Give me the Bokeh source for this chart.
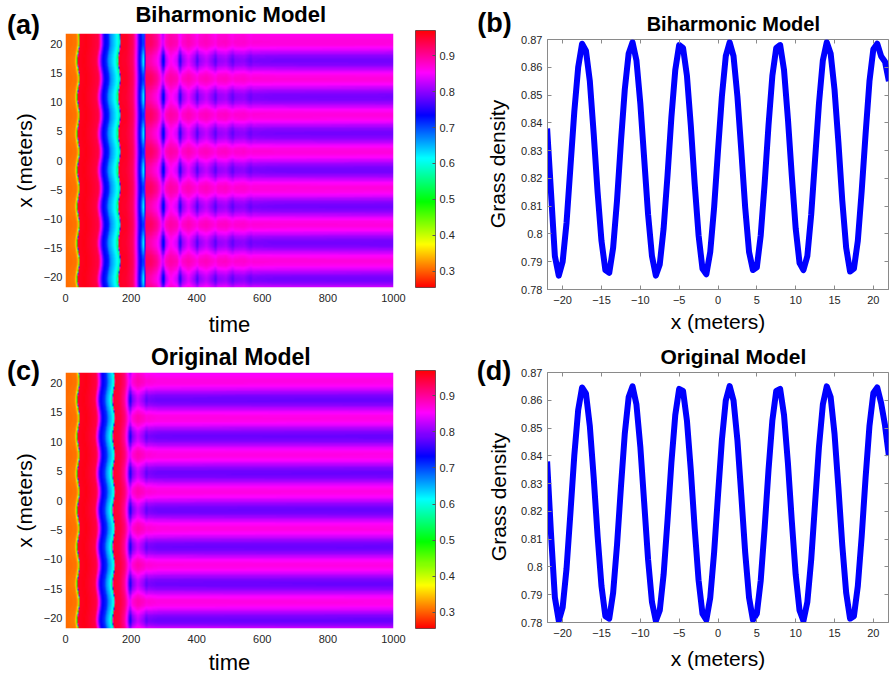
import colorsys
import numpy as np
from bokeh.plotting import figure
from bokeh.layouts import column, row
from bokeh.models import LinearColorMapper, FixedTicker, Label, LinearAxis, Range1d
from bokeh.embed import file_html
from bokeh.resources import INLINE

# ---------------- data ----------------
# spatial grid of the density profiles (meters)
X_M = np.arange(-22.0, 22.001, 0.5)

# final grass density, biharmonic model (panel b)
DENSITY_B = [
    0.838, 0.815, 0.792, 0.785, 0.790, 0.804, 0.824, 0.844, 0.860, 0.8685,
    0.866, 0.855, 0.836, 0.815, 0.7975, 0.787, 0.786, 0.795, 0.812, 0.833,
    0.852, 0.865, 0.869, 0.8625, 0.847, 0.827, 0.807, 0.792, 0.785, 0.789,
    0.802, 0.821, 0.842, 0.859, 0.868, 0.867, 0.857, 0.839, 0.818, 0.7995,
    0.7875, 0.7855, 0.7935, 0.8095, 0.830, 0.8495, 0.864, 0.869, 0.864, 0.8495,
    0.830, 0.8095, 0.7935, 0.787, 0.788, 0.7995, 0.818, 0.839, 0.857, 0.867,
    0.868, 0.859, 0.8415, 0.821, 0.802, 0.7895, 0.787, 0.792, 0.807, 0.827,
    0.847, 0.8625, 0.869, 0.865, 0.852, 0.833, 0.812, 0.795, 0.7865, 0.7875,
    0.7975, 0.8155, 0.836, 0.855, 0.8665, 0.8685, 0.864, 0.862, 0.855,
]

# final grass density, original model (panel d)
DENSITY_D = [
    0.838, 0.812, 0.789, 0.7806, 0.7854, 0.7994, 0.8194, 0.8401, 0.8565, 0.8646,
    0.8625, 0.8507, 0.8321, 0.8111, 0.7931, 0.7823, 0.7814, 0.7907, 0.8079, 0.8286,
    0.8480, 0.8612, 0.8650, 0.8585, 0.8433, 0.8230, 0.8026, 0.7873, 0.7806, 0.7843,
    0.7973, 0.8167, 0.8375, 0.8547, 0.8641, 0.8634, 0.8527, 0.8348, 0.8138, 0.7952,
    0.7832, 0.7809, 0.7889, 0.8052, 0.8258, 0.8457, 0.8599, 0.8651, 0.8599, 0.8456,
    0.8258, 0.8052, 0.7889, 0.7809, 0.7832, 0.7951, 0.8139, 0.8348, 0.8528, 0.8634,
    0.8641, 0.8547, 0.8374, 0.8166, 0.7973, 0.7843, 0.7806, 0.7873, 0.8027, 0.8230,
    0.8433, 0.8585, 0.8650, 0.8612, 0.8480, 0.8286, 0.8078, 0.7907, 0.7814, 0.7823,
    0.7931, 0.8111, 0.8321, 0.8508, 0.8626, 0.8646, 0.859, 0.851, 0.840,
]

# space-time maps: density between stripes (HI) and on stripes (LO) at read times
T_A = [0, 30, 36, 39, 41, 60, 98, 104, 110, 116, 128, 134, 150, 158, 163, 166,
       185, 205, 213, 219, 226, 233, 237, 241, 245, 262, 280, 290, 296, 300, 305,
       320, 340, 347, 351, 356, 375, 395, 402, 408, 430, 452, 457, 464, 490, 505,
       510, 517, 545, 560, 565, 572, 640, 1000]
HI_A = [0.305, 0.31, 0.34, 0.45, 0.955, 0.962, 0.94, 0.88, 0.80, 0.74, 0.72, 0.67,
        0.625, 0.60, 0.56, 0.955, 0.955, 0.93, 0.88, 0.82, 0.75, 0.72, 0.70, 0.72,
        0.93, 0.925, 0.90, 0.87, 0.83, 0.84, 0.88, 0.895, 0.885, 0.86, 0.855, 0.875,
        0.888, 0.872, 0.865, 0.877, 0.884, 0.87, 0.865, 0.877, 0.88, 0.87, 0.868,
        0.874, 0.876, 0.87, 0.868, 0.871, 0.87, 0.869]
LO_A = [0.305, 0.315, 0.36, 0.55, 0.955, 0.962, 0.94, 0.88, 0.80, 0.74, 0.715, 0.665,
        0.62, 0.59, 0.53, 0.955, 0.95, 0.925, 0.87, 0.81, 0.74, 0.68, 0.62, 0.63,
        0.90, 0.885, 0.86, 0.82, 0.74, 0.72, 0.81, 0.86, 0.83, 0.77, 0.745, 0.80,
        0.84, 0.80, 0.765, 0.80, 0.825, 0.79, 0.77, 0.80, 0.81, 0.785, 0.775,
        0.795, 0.80, 0.785, 0.78, 0.79, 0.786, 0.785]
SHIFT_T_A = [0, 170, 180, 1000]
SHIFT_V_A = [3, 3, 0, 0]

T_C = [0, 30, 36, 39, 41, 60, 92, 98, 104, 109, 122, 128, 140, 145, 148, 165,
       180, 188, 194, 198, 203, 220, 240, 247, 253, 280, 1000]
HI_C = [0.305, 0.31, 0.34, 0.45, 0.955, 0.962, 0.94, 0.88, 0.80, 0.74, 0.715, 0.67,
        0.625, 0.58, 0.955, 0.945, 0.92, 0.88, 0.845, 0.835, 0.87, 0.89, 0.878,
        0.87, 0.872, 0.867, 0.865]
LO_C = [0.305, 0.315, 0.36, 0.55, 0.955, 0.962, 0.94, 0.88, 0.80, 0.74, 0.71, 0.665,
        0.615, 0.53, 0.955, 0.94, 0.90, 0.84, 0.77, 0.735, 0.79, 0.83, 0.80,
        0.775, 0.79, 0.783, 0.7805]
SHIFT_T_C = [0, 152, 160, 1000]
SHIFT_V_C = [3, 3, 0, 0]

HEAT_X_TICKS = [0, 200, 400, 600, 800, 1000]
HEAT_Y_TICKS = [-20, -15, -10, -5, 0, 5, 10, 15, 20]
CB_TICKS = [0.3, 0.4, 0.5, 0.6, 0.7, 0.8, 0.9]
LINE_X_TICKS = [-20, -15, -10, -5, 0, 5, 10, 15, 20]
LINE_Y_TICKS = [0.78, 0.79, 0.80, 0.81, 0.82, 0.83, 0.84, 0.85, 0.86, 0.87]
LINE_Y_LABELS = ["0.78", "0.79", "0.8", "0.81", "0.82", "0.83", "0.84", "0.85", "0.86", "0.87"]

# ---------------- style ----------------
FONT = "Liberation Sans"
TICK_COLOR = "#262626"
AX_GRAY = "#8a8a8a"
CB_LOW, CB_HIGH = 0.255, 0.97
HEAT_Y = (-21.8, 21.8)
LINE_X = (-21.95, 21.95)
PALETTE = ["#%02x%02x%02x" % tuple(int(round(c * 255)) for c in colorsys.hsv_to_rgb(i / 256.0, 1, 1))
           for i in range(256)]
mapper = LinearColorMapper(palette=PALETTE, low=CB_LOW, high=CB_HIGH)


def canvas(w, h):
    p = figure(width=w, height=h, x_range=Range1d(0, w), y_range=Range1d(0, h),
               output_backend="svg", toolbar_location=None,
               x_axis_location=None, y_axis_location=None,
               min_border_left=0, min_border_right=0, min_border_top=0, min_border_bottom=0)
    p.grid.visible = False
    p.outline_line_color = None
    return p


def put(p, x, y_from_top, text, size, bold=False, angle=0.0):
    h = p.height
    p.add_layout(Label(x=x, y=h - y_from_top, text=text, text_font=FONT, text_font_size=size,
                       text_font_style="bold" if bold else "normal", angle=angle,
                       text_align="center", text_baseline="middle", text_color="black"))


def style_axis(ax, ticks, size="11px", tick_in=0, standoff=3):
    ax.ticker = FixedTicker(ticks=ticks)
    ax.major_label_text_font = FONT
    ax.major_label_text_font_size = size
    ax.major_label_text_color = TICK_COLOR
    ax.major_tick_in = tick_in
    ax.major_tick_out = 0
    ax.minor_tick_line_color = None
    ax.major_label_standoff = standoff


def axis_title(ax, text, standoff, size="22px"):
    ax.axis_label = text
    ax.axis_label_text_font = FONT
    ax.axis_label_text_font_size = size
    ax.axis_label_text_font_style = "normal"
    ax.axis_label_text_color = "black"
    ax.axis_label_standoff = standoff


def field(t_k, hi_k, lo_k, sh_t, sh_v, dens):
    d = np.asarray(dens)
    prof = np.clip((d - (d.max() + d.min()) / 2) / ((d.max() - d.min()) / 2), -1, 1)
    ys = np.linspace(HEAT_Y[0], HEAT_Y[1], 320)
    P = np.interp(ys, X_M, prof)[:, None]
    t = np.arange(1000) + 0.5
    shift = np.interp(t, sh_t, sh_v)[None, :]
    T = t[None, :] - shift * P
    hi = np.interp(T, t_k, hi_k)
    lo = np.interp(T, t_k, lo_k)
    return (hi + lo) / 2 + (hi - lo) / 2 * P


def heat_panel(height, bottom, t_k, hi_k, lo_k, sh_t, sh_v, dens, label_standoff):
    p = figure(width=375, height=height, x_range=Range1d(0, 1000), y_range=Range1d(*HEAT_Y),
               output_backend="svg", toolbar_location=None,
               min_border_left=25, min_border_right=22, min_border_top=0, min_border_bottom=bottom)
    p.grid.visible = False
    p.outline_line_color = None
    Z = field(t_k, hi_k, lo_k, sh_t, sh_v, dens)
    p.image(image=[Z], x=0, y=HEAT_Y[0], dw=1000, dh=HEAT_Y[1] - HEAT_Y[0], color_mapper=mapper)
    style_axis(p.xaxis[0], HEAT_X_TICKS, standoff=6)
    style_axis(p.yaxis[0], HEAT_Y_TICKS, standoff=3)
    p.xaxis.axis_line_color = None
    p.yaxis.axis_line_color = None
    axis_title(p.xaxis[0], "time", label_standoff)
    return p


def colorbar_panel(height, top, bottom):
    p = figure(width=45, height=height, x_range=Range1d(0, 1), y_range=Range1d(CB_LOW, CB_HIGH),
               output_backend="svg", toolbar_location=None, x_axis_location=None,
               y_axis_location="right",
               min_border_left=0, min_border_right=25, min_border_top=top, min_border_bottom=bottom)
    p.grid.visible = False
    grad = np.linspace(CB_LOW, CB_HIGH, 256).reshape(256, 1)
    p.image(image=[grad], x=0, y=CB_LOW, dw=1, dh=CB_HIGH - CB_LOW, color_mapper=mapper)
    style_axis(p.yaxis[0], CB_TICKS, size="11px", tick_in=3, standoff=4)
    p.yaxis.axis_line_color = None
    p.yaxis.major_tick_line_color = "#555555"
    p.outline_line_color = "#555555"
    p.outline_line_width = 1
    return p


def line_panel(height, bottom, dens, label_standoff):
    p = figure(width=378, height=height, x_range=Range1d(*LINE_X), y_range=Range1d(0.78, 0.87),
               output_backend="svg", toolbar_location=None,
               min_border_left=35, min_border_right=2, min_border_top=4, min_border_bottom=bottom)
    p.grid.visible = False
    p.outline_line_color = AX_GRAY
    p.line(X_M, dens, line_color="#0000ff", line_width=6, line_join="round")
    style_axis(p.xaxis[0], LINE_X_TICKS, tick_in=4, standoff=6)
    style_axis(p.yaxis[0], LINE_Y_TICKS, tick_in=4, standoff=5)
    p.yaxis[0].major_label_overrides = dict(zip(LINE_Y_TICKS, LINE_Y_LABELS))
    for ax in (p.xaxis[0], p.yaxis[0]):
        ax.axis_line_color = AX_GRAY
        ax.major_tick_line_color = AX_GRAY
    axis_title(p.xaxis[0], "x (meters)", label_standoff, size="21px")
    for loc, ticks in (("above", LINE_X_TICKS), ("right", LINE_Y_TICKS)):
        ax = LinearAxis()
        style_axis(ax, ticks, size="1px", tick_in=4, standoff=0)
        ax.major_label_text_color = None
        ax.axis_line_color = None
        ax.major_tick_line_color = AX_GRAY
        p.add_layout(ax, loc)
    return p


# left strip: panel letters (a), (c) and rotated y titles
left = canvas(40, 678)
put(left, 23, 24, "(a)", "27px", bold=True)
put(left, 24, 160, "x (meters)", "21px", angle=np.pi / 2)
put(left, 23, 370, "(c)", "27px", bold=True)
put(left, 24, 500, "x (meters)", "21px", angle=np.pi / 2)

# right strip: panel letters (b), (d) and rotated y titles
right = canvas(52, 678)
put(right, 34, 22, "(b)", "27px", bold=True)
put(right, 37, 163.5, "Grass density", "21px", angle=np.pi / 2)
put(right, 33.5, 370, "(d)", "27px", bold=True)
put(right, 38, 496.5, "Grass density", "21px", angle=np.pi / 2)

head_a = canvas(375, 33)
put(head_a, 189, 13.5, "Biharmonic Model", "22px", bold=True)
pa = heat_panel(306, 52, T_A, HI_A, LO_A, SHIFT_T_A, SHIFT_V_A, DENSITY_B, 7)
head_c = canvas(375, 33)
put(head_c, 189, 17, "Original Model", "23px", bold=True)
pc = heat_panel(306, 50, T_C, HI_C, LO_C, SHIFT_T_C, SHIFT_V_C, DENSITY_D, 4)

cba = colorbar_panel(337, 30, 50)
cbc = colorbar_panel(341, 33, 50)

head_b = canvas(378, 35)
put(head_b, 206, 23, "Biharmonic Model", "20px", bold=True)
pb = line_panel(301, 47, DENSITY_B, 3)
head_d = canvas(378, 32)
put(head_d, 206, 20, "Original Model", "21px", bold=True)
pd = line_panel(310, 56, DENSITY_D, 7)

layout = row(left,
             column(head_a, pa, head_c, pc, spacing=0),
             column(cba, cbc, spacing=0),
             right,
             column(head_b, pb, head_d, pd, spacing=0),
             spacing=0)
open("out.html", "w").write(file_html(layout, INLINE))
